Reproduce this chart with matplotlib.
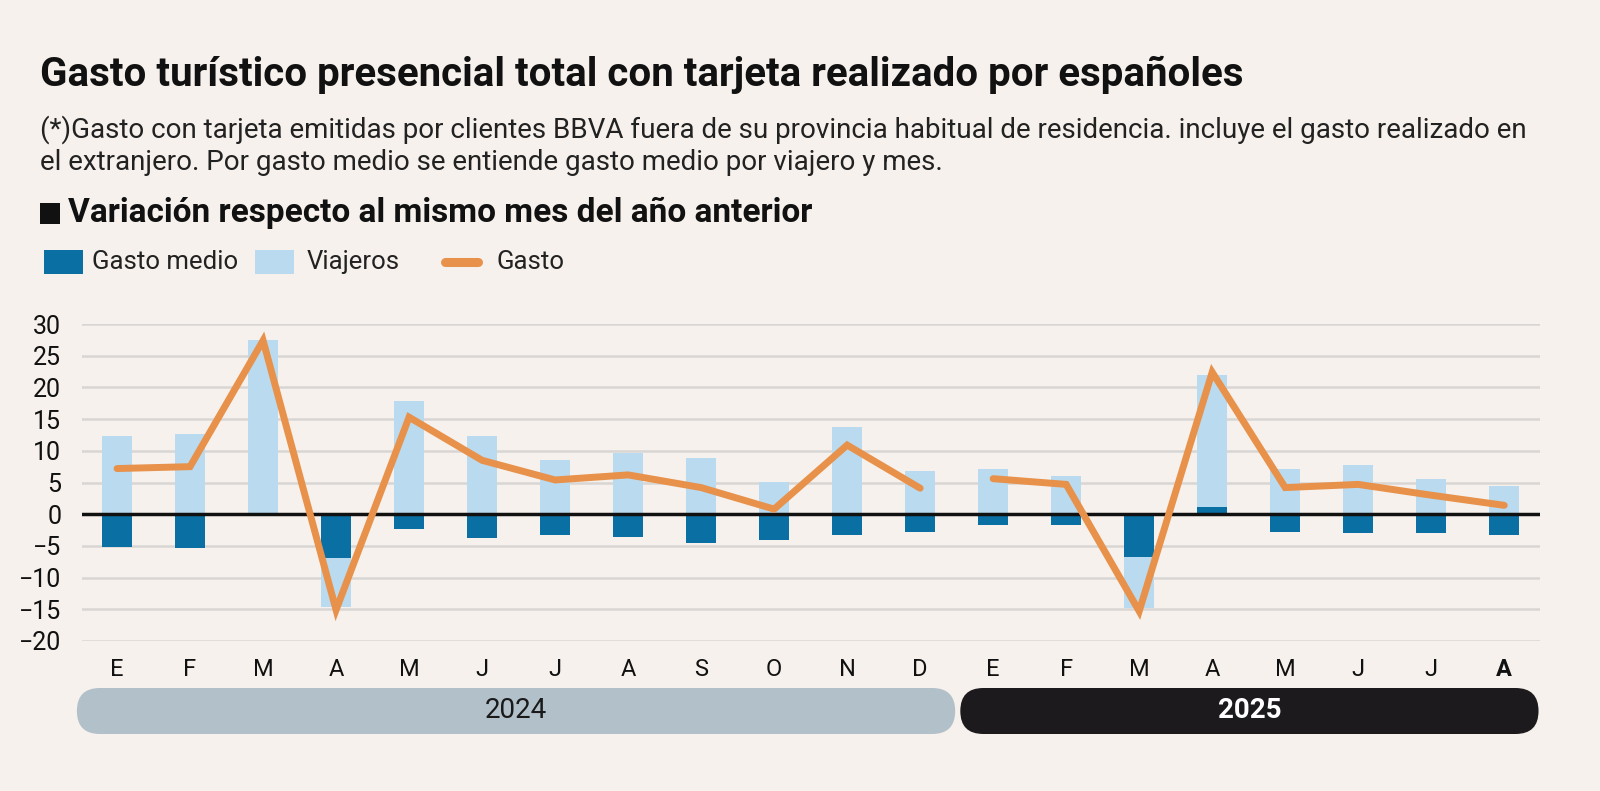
import matplotlib.pyplot as plt
import numpy as np
from matplotlib.patches import FancyBboxPatch, Rectangle
from matplotlib.lines import Line2D

plt.rcParams['font.family'] = ['Roboto', 'DejaVu Sans']

# Data
months = ['E', 'F', 'M', 'A', 'M', 'J', 'J', 'A', 'S', 'O', 'N', 'D',
          'E', 'F', 'M', 'A', 'M', 'J', 'J', 'A']
years = ['2024', '2025']
gasto_medio = [-5.1, -5.3, 0.0, -6.9, -2.4, -3.8, -3.3, -3.6, -4.6, -4.1, -3.3, -2.8,
               -1.7, -1.7, -6.7, 1.1, -2.8, -3.0, -3.0, -3.3]
viajeros = [12.4, 12.6, 27.4, -7.7, 17.8, 12.4, 8.5, 9.6, 8.8, 5.1, 13.8, 6.8,
            7.1, 6.0, -8.1, 20.9, 7.1, 7.7, 5.6, 4.5]
gasto = [7.2, 7.5, 27.4, -15.1, 15.3, 8.5, 5.4, 6.2, 4.2, 0.8, 10.9, 4.1,
         5.6, 4.7, -15.3, 22.4, 4.2, 4.7, 3.0, 1.4]

BG = '#f6f1ec'
DARK = '#0a6fa3'
LIGHT = '#b9daef'
ORANGE = '#e8914a'
GRID = '#d8d6d4'

W, H = 1600, 791
fig = plt.figure(figsize=(W / 100, H / 100), dpi=100)
fig.patch.set_facecolor(BG)

# Header texts
fig.text(40 / W, 1 - 75 / H, 'Gasto turístico presencial total con tarjeta realizado por españoles',
         fontsize=29, fontweight='bold', color='#111111', va='center', ha='left')
fig.text(40 / W, 1 - 130 / H,
         '(*)Gasto con tarjeta emitidas por clientes BBVA fuera de su provincia habitual de residencia. incluye el gasto realizado en',
         fontsize=20, color='#222222', va='center', ha='left')
fig.text(40 / W, 1 - 163 / H,
         'el extranjero. Por gasto medio se entiende gasto medio por viajero y mes.',
         fontsize=20, color='#222222', va='center', ha='left')
fig.patches.append(Rectangle((40 / W, 1 - 224 / H), 20 / W, 21 / H, transform=fig.transFigure,
                             facecolor='#111111', edgecolor='none'))
fig.text(68 / W, 1 - 213 / H, 'Variación respecto al mismo mes del año anterior',
         fontsize=24, fontweight='bold', color='#111111', va='center', ha='left')

# Legend
fig.patches.append(Rectangle((44 / W, 1 - 274 / H), 39 / W, 24 / H, transform=fig.transFigure,
                             facecolor=DARK, edgecolor='none'))
fig.text(92 / W, 1 - 262 / H, 'Gasto medio', fontsize=18.5, color='#222222', va='center')
fig.patches.append(Rectangle((255 / W, 1 - 274 / H), 39 / W, 24 / H, transform=fig.transFigure,
                             facecolor=LIGHT, edgecolor='none'))
fig.text(307 / W, 1 - 262 / H, 'Viajeros', fontsize=18.5, color='#222222', va='center')
fig.lines.append(Line2D([445 / W, 478 / W], [1 - 262 / H, 1 - 262 / H], transform=fig.transFigure,
                        color=ORANGE, lw=6.5, solid_capstyle='round'))
fig.text(497 / W, 1 - 262 / H, 'Gasto', fontsize=18.5, color='#222222', va='center')

# Main chart
ax = fig.add_axes([82 / W, 1 - 641 / H, (1540 - 82) / W, (641 - 324) / H])
ax.set_facecolor(BG)
x = np.arange(len(months))
gm = np.array(gasto_medio)
vj = np.array(viajeros)
bottom = np.where(np.sign(gm) == np.sign(vj), gm, 0)
bw = 0.41
ax.bar(x, gm, width=bw, color=DARK, zorder=3)
ax.bar(x, vj, width=bw, bottom=bottom, color=LIGHT, zorder=3)
ax.plot(x[:12], gasto[:12], color=ORANGE, lw=5, solid_capstyle='round',
        solid_joinstyle='miter', zorder=5)
ax.plot(x[12:], gasto[12:], color=ORANGE, lw=5, solid_capstyle='round',
        solid_joinstyle='miter', zorder=5)
ax.axhline(0, color='#111111', lw=2.5, zorder=4)

ax.set_xlim(-0.48, len(months) - 0.51)
ax.set_ylim(-20, 30)
ax.set_yticks(range(-20, 31, 5))
ax.grid(axis='y', color=GRID, lw=1.8, zorder=0)
ax.tick_params(axis='y', length=0, labelsize=18, pad=15, labelcolor='#111111')
ax.set_xticks(x)
ax.set_xticklabels(months)
ax.tick_params(axis='x', length=0, labelsize=17, pad=12, labelcolor='#111111')
ax.get_xticklabels()[-1].set_fontweight('bold')
for s in ax.spines.values():
    s.set_visible(False)

# Year bands
bx = fig.add_axes([82 / W, 1 - 734 / H, (1540 - 82) / W, 46 / H])
bx.set_xlim(ax.get_xlim())
bx.set_ylim(0, 1)
bx.axis('off')
px_x = (1540 - 82) / (ax.get_xlim()[1] - ax.get_xlim()[0])
px_y = 46
r = 23 / px_x
asp = px_x / px_y
bands = [(-0.55, 11.48, '#b2c0ca', '#1a1a1a', 'normal'),
         (11.55, 19.47, '#1c1a1d', 'white', 'bold')]
for (x0, x1, fc, tc, fw), yr in zip(bands, years):
    bx.add_patch(FancyBboxPatch((x0, 0), x1 - x0, 1,
                                boxstyle=f'round,pad=0,rounding_size={r}',
                                mutation_aspect=asp, facecolor=fc, edgecolor='none',
                                clip_on=False))
    bx.text((x0 + x1) / 2, 0.5, yr, color=tc, fontsize=20, fontweight=fw,
            ha='center', va='center')

fig.savefig('out.png', dpi=100, facecolor=BG)
